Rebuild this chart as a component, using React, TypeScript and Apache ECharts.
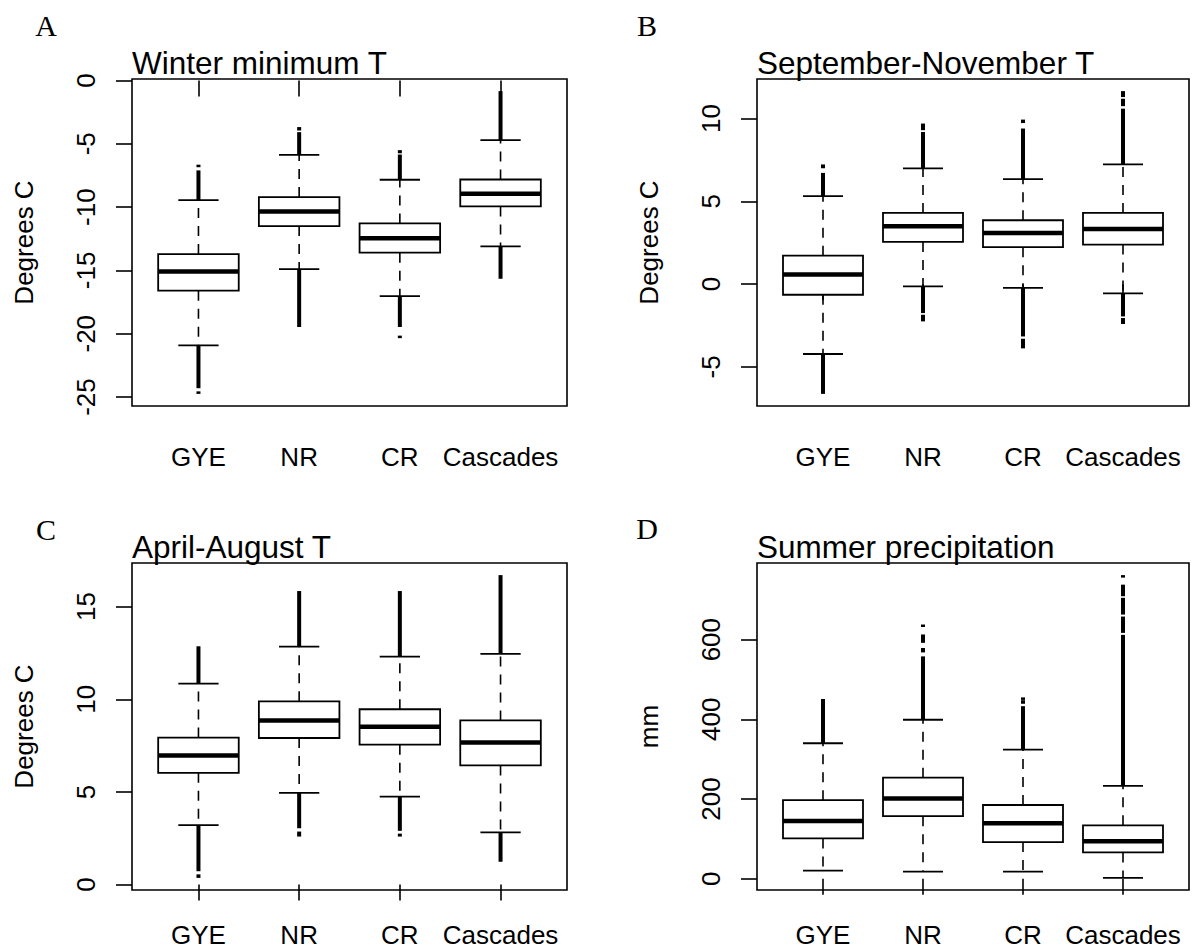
import React, { useEffect, useRef } from "react";
import * as echarts from "echarts";

const categories = ["GYE", "NR", "CR", "Cascades"];
const panelLetters = ["A", "B", "C", "D"];
const panelTitles = ["Winter minimum T", "September-November T", "April-August T", "Summer precipitation"];
const yAxisNames = ["Degrees C", "Degrees C", "Degrees C", "mm"];

// Box statistics per category: [lower whisker, Q1, median, Q3, upper whisker]
const winterMinStats = [
  [-20.92, -16.6, -15.08, -13.71, -9.45],
  [-14.89, -11.5, -10.34, -9.21, -5.87],
  [-17.03, -13.6, -12.45, -11.29, -7.84],
  [-13.1, -9.95, -8.95, -7.82, -4.71],
];
// Runs of dense outlier points: [category index, from, to]
const winterMinOutliers = [
  [0, -9.45, -7.1], [0, -6.85, -6.65], [0, -24.3, -20.92], [0, -24.75, -24.55],
  [1, -5.87, -4.08], [1, -3.95, -3.68], [1, -19.47, -14.89],
  [2, -7.84, -5.85], [2, -5.75, -5.5], [2, -19.47, -17.03], [2, -20.35, -20.15],
  [3, -4.71, -0.84], [3, -15.66, -13.1],
];
const winterMinTicks = [-25, -20, -15, -10, -5, 0];

const sepNovStats = [
  [-4.22, -0.64, 0.58, 1.72, 5.32],
  [-0.14, 2.55, 3.49, 4.3, 6.99],
  [-0.22, 2.23, 3.09, 3.86, 6.34],
  [-0.56, 2.39, 3.33, 4.3, 7.23],
];
const sepNovOutliers = [
  [0, 5.32, 6.72], [0, 7.0, 7.23], [0, -6.63, -4.22],
  [1, 6.99, 9.19], [1, 9.3, 9.7], [1, -1.75, -0.14], [1, -2.25, -1.85],
  [2, 6.34, 9.4], [2, 9.73, 9.94], [2, -3.16, -0.22], [2, -3.88, -3.3],
  [3, 7.23, 10.6], [3, 10.75, 11.2], [3, 11.3, 11.66], [3, -1.95, -0.56], [3, -2.41, -2.05],
];
const sepNovTicks = [-5, 0, 5, 10];

const aprAugStats = [
  [3.21, 6.03, 6.97, 7.93, 10.84],
  [4.95, 7.91, 8.86, 9.89, 12.84],
  [4.75, 7.55, 8.52, 9.46, 12.3],
  [2.82, 6.43, 7.66, 8.86, 12.45],
];
const aprAugOutliers = [
  [0, 10.84, 12.86], [0, 0.72, 3.21], [0, 0.36, 0.55],
  [1, 12.84, 15.84], [1, 3.04, 4.95], [1, 2.59, 2.86],
  [2, 12.3, 15.84], [2, 2.9, 4.75], [2, 2.59, 2.75],
  [3, 12.45, 16.7], [3, 1.23, 2.82],
];
const aprAugTicks = [0, 5, 10, 15];

const summerPrecipStats = [
  [20, 101, 145, 197, 340],
  [17.6, 157, 201, 253.5, 399],
  [17.6, 92, 139, 185, 324],
  [2, 66, 94, 134, 233],
];
const summerPrecipOutliers = [
  [0, 340, 451],
  [1, 399, 558], [1, 568, 579], [1, 592, 613], [1, 632, 638],
  [2, 324, 433], [2, 439, 448], [2, 450, 455],
  [3, 233, 612], [3, 617, 658], [3, 663, 705], [3, 709, 738], [3, 757, 762],
];
const summerPrecipTicks = [0, 200, 400, 600];

const panelStats = [winterMinStats, sepNovStats, aprAugStats, summerPrecipStats];
const panelOutliers = [winterMinOutliers, sepNovOutliers, aprAugOutliers, summerPrecipOutliers];
const panelTicks = [winterMinTicks, sepNovTicks, aprAugTicks, summerPrecipTicks];
const categoryPositions = [1, 2, 3, 4];

const SANS = "'Liberation Sans', Arial, Helvetica, sans-serif";
const SERIF = "'Liberation Serif', 'Times New Roman', serif";

// plot regions (pixels)
const grids = [
  { left: 132, top: 79, width: 435, height: 327 },
  { left: 757, top: 79, width: 432, height: 327 },
  { left: 132, top: 563, width: 435, height: 327 },
  { left: 757, top: 563, width: 432, height: 327 },
];
const xLabelMargins = [38, 38, 32, 32];
const letterPos = [
  [46, 25],
  [647, 25],
  [46, 529],
  [647, 528],
];

function rExtent(stats: number[][], outliers: number[][]) {
  let lo = Infinity;
  let hi = -Infinity;
  stats.forEach((s) => s.forEach((v) => { lo = Math.min(lo, v); hi = Math.max(hi, v); }));
  outliers.forEach((o) => { lo = Math.min(lo, o[1], o[2]); hi = Math.max(hi, o[1], o[2]); });
  const r = hi - lo;
  return [lo - 0.04 * r, hi + 0.04 * r];
}

function renderBox(params: any, api: any) {
  const x = api.value(0);
  const lo = api.coord([x, api.value(1)]);
  const q1 = api.coord([x, api.value(2)]);
  const med = api.coord([x, api.value(3)]);
  const q3 = api.coord([x, api.value(4)]);
  const hi = api.coord([x, api.value(5)]);
  const halfBox = api.size([0.4, 0])[0];
  const halfStaple = api.size([0.2, 0])[0];
  const cx = med[0];
  const dash = { stroke: "#000", lineWidth: 1.6, lineDash: [10, 8], fill: null };
  const solid = { stroke: "#000", lineWidth: 1.8, fill: null };
  return {
    type: "group",
    children: [
      { type: "line", shape: { x1: cx, y1: q3[1], x2: cx, y2: hi[1] }, style: dash },
      { type: "line", shape: { x1: cx, y1: q1[1], x2: cx, y2: lo[1] }, style: dash },
      { type: "line", shape: { x1: cx - halfStaple, y1: hi[1], x2: cx + halfStaple, y2: hi[1] }, style: solid },
      { type: "line", shape: { x1: cx - halfStaple, y1: lo[1], x2: cx + halfStaple, y2: lo[1] }, style: solid },
      {
        type: "rect",
        shape: { x: cx - halfBox, y: q3[1], width: 2 * halfBox, height: q1[1] - q3[1] },
        style: { fill: "#fff", stroke: "#000", lineWidth: 1.8 },
      },
      { type: "line", shape: { x1: cx - halfBox, y1: med[1], x2: cx + halfBox, y2: med[1] }, style: { stroke: "#000", lineWidth: 4.5 } },
    ],
  };
}

function renderOutlier(params: any, api: any) {
  const x = api.value(0);
  const a = api.coord([x, api.value(1)]);
  const b = api.coord([x, api.value(2)]);
  const top = Math.min(a[1], b[1]);
  const h = Math.max(Math.abs(a[1] - b[1]), 2.5);
  return {
    type: "rect",
    shape: { x: a[0] - 2, y: top, width: 4, height: h },
    style: { fill: "#000" },
  };
}

export default function App() {
  const ref = useRef<HTMLDivElement>(null);
  useEffect(() => {
    if (!ref.current) return;
    const chart = echarts.init(ref.current, null, { renderer: "svg" });
    const xAxis: any[] = [];
    const yAxis: any[] = [];
    const series: any[] = [];
    const graphic: any[] = [];
    for (let i = 0; i < 4; i++) {
      const [ymin, ymax] = rExtent(panelStats[i], panelOutliers[i]);
      xAxis.push({
        type: "value",
        gridIndex: i,
        min: 0.34,
        max: 4.66,
        axisLine: { show: false },
        splitLine: { show: false },
        axisTick: { show: true, customValues: categoryPositions, length: 16, lineStyle: { color: "#000", width: 1.6 } },
        axisLabel: {
          show: true,
          customValues: categoryPositions,
          formatter: (v: number) => categories[Math.round(v) - 1] ?? "",
          margin: xLabelMargins[i],
          color: "#000",
          fontSize: 26,
          fontFamily: SANS,
        },
      });
      yAxis.push({
        type: "value",
        gridIndex: i,
        min: ymin,
        max: ymax,
        name: yAxisNames[i],
        nameLocation: "middle",
        nameRotate: 90,
        nameGap: 95,
        nameTextStyle: { color: "#000", fontSize: 26, fontFamily: SANS },
        axisLine: { show: false },
        splitLine: { show: false },
        axisTick: { show: true, customValues: panelTicks[i], length: 16, lineStyle: { color: "#000", width: 1.6 } },
        axisLabel: {
          show: true,
          customValues: panelTicks[i],
          rotate: 90,
          margin: 33,
          color: "#000",
          fontSize: 26,
          fontFamily: SANS,
        },
      });
      series.push({
        type: "custom",
        xAxisIndex: i,
        yAxisIndex: i,
        renderItem: renderOutlier,
        data: panelOutliers[i].map((o) => [categoryPositions[o[0]], o[1], o[2]]),
        encode: { x: 0, y: [1, 2] },
        silent: true,
      });
      series.push({
        type: "custom",
        xAxisIndex: i,
        yAxisIndex: i,
        renderItem: renderBox,
        data: panelStats[i].map((s, k) => [categoryPositions[k], ...s]),
        encode: { x: 0, y: [1, 2, 3, 4, 5] },
        silent: true,
      });
      graphic.push({
        type: "text",
        x: grids[i].left,
        y: grids[i].top - 16.5,
        style: {
          text: panelTitles[i],
          font: `31.5px ${SANS}`,
          fill: "#000",
          textAlign: "left",
          textVerticalAlign: "middle",
        },
      });
      graphic.push({
        type: "text",
        x: letterPos[i][0],
        y: letterPos[i][1],
        style: {
          text: panelLetters[i],
          font: `30px ${SERIF}`,
          fill: "#000",
          textAlign: "center",
          textVerticalAlign: "middle",
        },
      });
    }
    chart.setOption({
      animation: false,
      backgroundColor: "#fff",
      grid: grids.map((g) => ({ ...g, show: true, borderColor: "#000", borderWidth: 1.6, backgroundColor: "transparent", containLabel: false })),
      xAxis,
      yAxis,
      series,
      graphic,
    });
    return () => chart.dispose();
  }, []);
  return (
    <div
      ref={ref}
      style={{ position: "fixed", left: 0, top: 0, width: 1195, height: 952, background: "#fff" }}
    />
  );
}
